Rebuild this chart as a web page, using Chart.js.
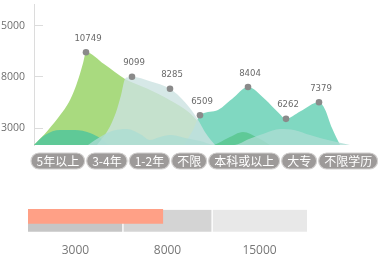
<!DOCTYPE html>
<html><head><meta charset="utf-8">
<script src="https://cdn.jsdelivr.net/npm/chart.js@4.4.1/dist/chart.umd.min.js"></script>
<style>
html,body{margin:0;padding:0;background:#fff;width:378px;height:255px;overflow:hidden}
#top{position:absolute;left:0;top:0}
#bot{position:absolute;left:0;top:195px}
</style></head><body>
<canvas id="top" width="378" height="175"></canvas>
<canvas id="bot" width="378" height="66"></canvas>
<script>
// ---- data ----
const categories = ['5年以上','3-4年','1-2年','不限','本科或以上','大专','不限学历'];
const salaryValues = [10749, 9099, 8285, 6509, 8404, 6262, 7379];
const pointPositions = [52, 98, 136, 166, 214, 252, 285];
const yTickLabels = ['3000','8000','15000'];

// decorative hills: [position, value]
const hillA = [[0,4500],[14,5500],[26,6500],[35,7400],[41,8300],[46,9300],[49,10000],[52,10749],[70,9950],[91,8950],[113,8300],[136,7511],[156,6641],[169,5637],[181,4500]];
const hillB = [[63,4500],[74,5503],[82,6708],[87,7846],[91,8950],[94,9060],[98,9099],[116,8800],[136,8285],[151,7377],[163,6307],[173,5169],[181,4500]];
const hillC = [[150,4500],[159,5503],[166,6509],[182,6800],[198,7600],[214,8404],[231,7578],[244,6700],[252,6262],[266,6750],[285,7379],[291,6900],[298,5637],[306,4500]];
const hillD = [[0,4500],[11,5169],[26,5503],[41,5503],[56,5303],[66,4968],[76,4500],[178,4500],[194,4968],[209,5370],[224,4968],[236,4500]];
const hillE = [[54,4500],[66,5036],[78,5437],[93,5570],[106,5236],[116,4834],[126,5036],[136,5169],[151,4968],[166,4767],[181,4500],[200,4500],[215,4900],[231,5300],[246,5570],[261,5500],[276,5170],[296,4800],[316,4500]];

const bandLabels = ['3000','8000','15000'];
const bandWidths = [1, 0.94, 1];
const markValue = 1.42;

// ---- top chart ----
const toXY = arr => arr.map(([x, y]) => ({x, y}));
const hill = (data, color) => ({
  type: 'line', data: toXY(data), backgroundColor: color, borderColor: 'rgba(0,0,0,0)',
  borderWidth: 0, pointRadius: 0, fill: 'start', cubicInterpolationMode: 'monotone', tension: 0.4
});

const narrowFont = "'Liberation Sans Narrow','DejaVu Sans Condensed','Open Sans',sans-serif";

const valueLabels = {
  id: 'valueLabels',
  afterDatasetsDraw(chart) {
    const meta = chart.getDatasetMeta(0);
    const ctx = chart.ctx;
    ctx.save();
    ctx.font = "9.5px " + narrowFont;
    ctx.fillStyle = '#6a6a6a';
    ctx.textAlign = 'center';
    ctx.textBaseline = 'middle';
    meta.data.forEach((pt, i) => ctx.fillText(String(salaryValues[i]), pt.x + 2, pt.y - 14));
    ctx.restore();
  }
};

const pillLabels = {
  id: 'pillLabels',
  afterDraw(chart) {
    const ctx = chart.ctx;
    ctx.save();
    ctx.font = "12px 'Noto Sans CJK SC', sans-serif";
    ctx.textAlign = 'center';
    ctx.textBaseline = 'middle';
    let x = chart.chartArea.left - 3;
    const y = chart.chartArea.bottom + 8, h = 16, pad = 5.5;
    categories.forEach(c => {
      const w = ctx.measureText(c).width + pad * 2;
      ctx.beginPath();
      ctx.roundRect(x, y, w, h, h / 2);
      ctx.fillStyle = '#9d9a99';
      ctx.fill();
      ctx.lineWidth = 1.2;
      ctx.strokeStyle = '#d2d0cf';
      ctx.stroke();
      ctx.fillStyle = '#ffffff';
      ctx.fillText(c, x + w / 2, y + h / 2 + 0.5);
      x += w + 2;
    });
    ctx.restore();
  }
};

new Chart(document.getElementById('top'), {
  type: 'line',
  data: {
    datasets: [
      {
        data: pointPositions.map((x, i) => ({x, y: salaryValues[i]})),
        showLine: false, pointRadius: 3.3, pointBackgroundColor: '#8a8a8a',
        pointBorderWidth: 0, borderColor: 'rgba(0,0,0,0)'
      },
      hill(hillE, 'rgba(172,221,212,0.78)'),
      hill(hillB, 'rgba(204,226,225,0.8)'),
      hill(hillD, '#5fc997'),
      hill(hillC, '#80d8c1'),
      hill(hillA, '#a9da7f')
    ]
  },
  options: {
    responsive: false, animation: false, devicePixelRatio: 1,
    layout: {padding: {top: 3, right: 24, bottom: 30, left: 0}},
    plugins: {legend: {display: false}, tooltip: {enabled: false}},
    scales: {
      x: {type: 'linear', min: 0, max: 320, display: false},
      y: {type: 'linear', min: 4500, max: 14000, display: false},
      yt: {
        type: 'linear', position: 'left', min: 0.67, max: 3.427,
        afterBuildTicks: s => { s.ticks = yTickLabels.map((_, i) => ({value: i + 1})); },
        afterFit: s => { s.width = 34; s.paddingTop = 0; s.paddingBottom = 0; },
        ticks: {
          callback: v => yTickLabels[Math.round(v) - 1] ?? '',
          padding: 18, color: '#6f6f6f', autoSkip: false,
          font: {family: "'Open Sans', sans-serif", size: 10.5}
        },
        grid: {drawOnChartArea: false, tickLength: -9, color: '#dcdcdc', lineWidth: 1},
        border: {color: '#dcdcdc', width: 1}
      }
    }
  },
  plugins: [valueLabels, pillLabels]
});

// ---- bottom chart ----
const bandColors = ['#c6c6c6', '#d4d4d4', '#e8e8e8'];
const bandTotal = bandWidths.reduce((a, b) => a + b, 0);
const MARK_ROW = 0.684, BAND_ROW = 0.367;

new Chart(document.getElementById('bot'), {
  type: 'bar',
  data: {
    datasets: [
      {data: [{x: markValue, y: MARK_ROW}], stack: 'mark', backgroundColor: '#ffa086',
       barThickness: 14, grouped: false, borderWidth: 0},
      ...bandWidths.map((w, i) => ({
        data: [{x: w, y: BAND_ROW}], stack: 'band', backgroundColor: bandColors[i],
        barThickness: 22, grouped: false, borderColor: '#ffffff', borderSkipped: false,
        borderWidth: {left: i ? 1 : 0, right: i < bandWidths.length - 1 ? 1 : 0, top: 0, bottom: 0}
      }))
    ]
  },
  options: {
    indexAxis: 'y', responsive: false, animation: false, devicePixelRatio: 1,
    layout: {padding: {top: 10, left: 28, right: 71, bottom: 0}},
    plugins: {legend: {display: false}, tooltip: {enabled: false}},
    scales: {
      x: {
        type: 'linear', stacked: true, min: 0, max: bandTotal,
        grid: {display: false, drawTicks: false}, border: {display: false},
        afterBuildTicks: s => {
          let c = 0;
          s.ticks = bandWidths.map(w => { const v = c + w / 2; c += w; return {value: v}; });
        },
        ticks: {
          callback: (v, i) => bandLabels[i], padding: 10, color: '#777777',
          autoSkip: false, maxRotation: 0,
          font: {family: "'Open Sans', sans-serif", size: 12}
        }
      },
      y: {type: 'linear', min: 0, max: 1, display: false}
    }
  }
});
</script>
</body></html>
